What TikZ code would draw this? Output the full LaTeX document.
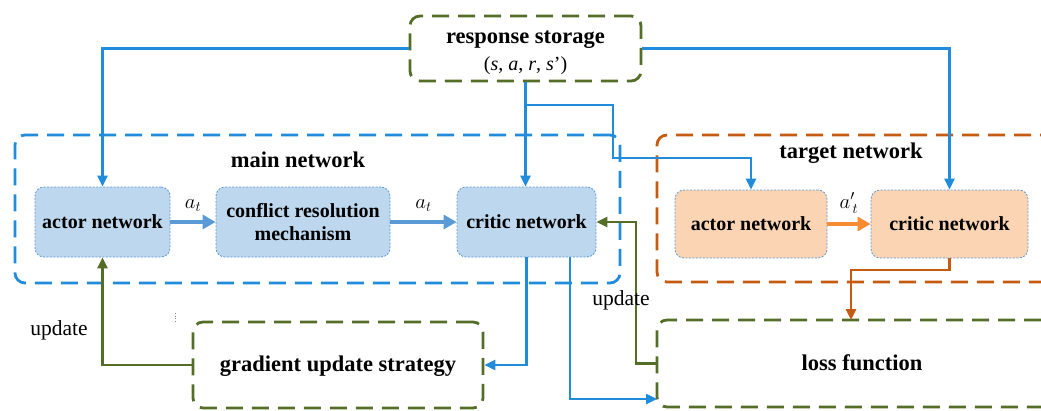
\documentclass[tikz,border=0pt]{standalone}
\usepackage{fontspec}
\setmainfont{Liberation Serif}
\usetikzlibrary{arrows.meta,calc}
\definecolor{cblue}{RGB}{34,140,220}
\definecolor{nodeblue}{RGB}{189,215,238}
\definecolor{dblue}{RGB}{91,155,213}
\definecolor{corange}{RGB}{197,90,17}
\definecolor{nodeorange}{RGB}{251,212,180}
\definecolor{lorange}{RGB}{247,140,50}
\definecolor{cgreen}{RGB}{84,110,40}
\tikzset{
  netbox/.style={draw=dblue, line width=0.8pt, dash pattern=on 2pt off 1.5pt, rounded corners=9pt,
    font=\bfseries\fontsize{20}{23}\selectfont, align=center, inner sep=0pt},
  groupbox/.style={dash pattern=on 17pt off 9pt, line width=2.8pt, rounded corners=10pt, inner sep=0pt},
  title/.style={font=\bfseries\fontsize{22.5}{25}\selectfont, align=center},
  conn/.style={draw=cblue, line width=2.4pt, -{Triangle[length=11pt,width=10pt]}},
  gconn/.style={draw=cgreen, line width=2.6pt, -{Triangle[length=11pt,width=10pt]}},
  oconn/.style={draw=corange, line width=2.6pt, -{Triangle[length=11pt,width=10pt]}},
  thick arrow/.style={line width=4.5pt, -{Triangle[length=13pt,width=14pt]}},
  plain/.style={font=\fontsize{21.5}{24}\selectfont},
  mathlab/.style={font=\fontsize{21}{24}\selectfont},
}
\begin{document}
\begin{tikzpicture}[x=1pt,y=-1pt]
\useasboundingbox (0,0) rectangle (1041,410);
\clip (0,0) rectangle (1041,410);
% group boxes
\node[groupbox, draw=cblue, minimum width=605pt, minimum height=148pt] (main) at (317.5,209) {};
\node[groupbox, draw=corange, minimum width=410pt, minimum height=147pt] (target) at (862,208.5) {};
\node[groupbox, draw=cgreen, minimum width=420pt, minimum height=87pt] (loss) at (867,363.5) {};
\node[groupbox, draw=cgreen, minimum width=290pt, minimum height=86pt] (grad) at (338,365) {};
\node[groupbox, draw=cgreen, minimum width=231pt, minimum height=65pt] (storage) at (525.5,48.5) {};
% titles
\node[title] (storagetxt) at (525.5,40) {response storage};
\node[font=\fontsize{20}{23}\selectfont] (tuple) at (525.5,66) {(\textit{s}, \textit{a}, \textit{r}, \textit{s}')};
\node[title] (maintxt) at (298,160) {main network};
\node[title] (targettxt) at (851,153) {target network};
\node[title] (losstxt) at (862,363) {loss function};
\node[title] (gradtxt) at (338,366) {gradient update strategy};
% network nodes
\node[netbox, fill=nodeblue, minimum width=135pt, minimum height=70pt] (actor) at (102.5,222) {actor network};
\node[netbox, fill=nodeblue, minimum width=174pt, minimum height=70pt] (conflict) at (303,222) {conflict resolution\\mechanism};
\node[netbox, fill=nodeblue, minimum width=139pt, minimum height=70pt] (critic) at (526.5,222) {critic network};
\node[netbox, fill=nodeorange, minimum width=152pt, minimum height=68pt] (tactor) at (751,224) {actor network};
\node[netbox, fill=nodeorange, minimum width=157pt, minimum height=68pt] (tcritic) at (949.5,224) {critic network};
% action arrows
\draw[thick arrow, draw=dblue, fill=dblue] (actor.east) -- (conflict.west) node[midway, above=5pt, mathlab] (at1) {$a_t$};
\draw[thick arrow, draw=dblue, fill=dblue] (conflict.east) -- (critic.west) node[midway, above=5pt, mathlab] (at2) {$a_t$};
\draw[thick arrow, draw=lorange, fill=lorange] (tactor.east) -- (tcritic.west) node[midway, above=5pt, mathlab] (at3) {$a'_{\,t}$};
% storage connectors
\draw[conn] (storage.west) -| (actor.north);
\draw[conn] (storage.east) -| (tcritic.north);
\draw[conn] (storage.south) -- (storage.south |- critic.north);
\coordinate (br) at (525.5,105);
\coordinate (bend) at (613,158);
\draw[conn] (br) -| (bend) -| (tactor.north);
% critic outputs
\draw[conn] (critic.south) |- (grad.east);
\coordinate (c2) at (570,257);
\coordinate (l2) at (657,399);
\draw[conn] (c2) |- (l2);
% green updates
\coordinate (gx) at (636,0);
\draw[gconn] (loss.west) -- (gx |- loss.west) -- (gx |- critic.east) -- (critic.east);
\draw[gconn] (grad.west) -| (actor.south);
\node[plain] (upd1) at (59,330) {update};
\node[plain] (upd2) at (621,300) {update};
% orange target to loss
\coordinate (o1) at (949.5,270);
\coordinate (o2) at (851,320);
\draw[oconn] (tcritic.south) -- (o1) -| (o2);
% small dotted artifact
\draw[gray, dotted, line width=0.6pt] (175,313) -- (175,323);
\end{tikzpicture}
\end{document}
